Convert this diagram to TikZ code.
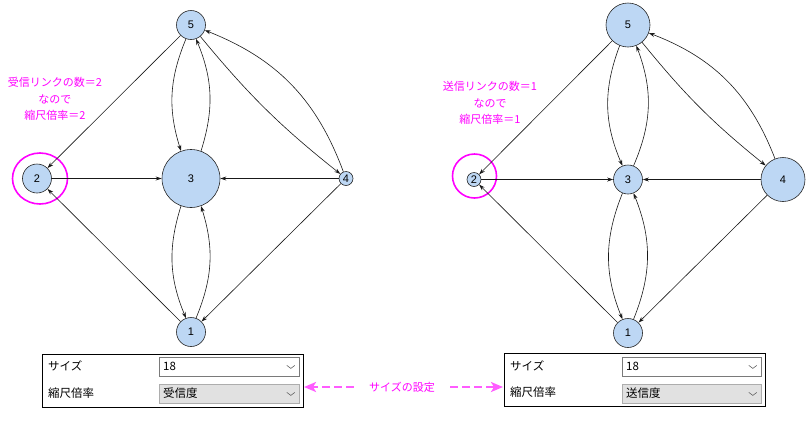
\documentclass[tikz,border=0pt]{standalone}
\usepackage{fontspec}
\setmainfont{Liberation Sans}
\newfontfamily\jp{Noto Sans CJK JP}
\usetikzlibrary{arrows.meta,shapes.geometric}
\definecolor{nodeblue}{HTML}{BDD7F4}
\definecolor{mag}{HTML}{FF00FF}
\definecolor{magarr}{HTML}{FF5CFF}
\definecolor{combofill}{HTML}{E1E1E1}
\definecolor{comboline}{HTML}{ADADAD}
\definecolor{comboline1}{HTML}{7A7A7A}
\tikzset{
  vert/.style={circle, draw=black!85, fill=nodeblue, inner sep=0pt, line width=0.6pt,
    font=\fontsize{11}{11}\selectfont},
  dA/.style={minimum size=14pt},
  dB/.style={minimum size=29pt},
  dC/.style={minimum size=44pt},
  dD/.style={minimum size=58pt},
  edge/.style={-{Stealth[length=6pt,width=4pt,inset=2pt]}, line width=0.6pt, draw=black!90},
  hl/.style={draw=mag, line width=1.6pt, fill=none, inner sep=0pt},
  lab/.style={text=mag, align=center, font=\jp\fontsize{11}{16.5}\selectfont, inner sep=0pt},
  panel/.style={draw=black, line width=0.9pt, fill=white, inner sep=0pt, anchor=north west},
  combowhite/.style={draw=comboline1, fill=white, line width=0.8pt, inner sep=0pt, anchor=north west},
  combogray/.style={draw=comboline, fill=combofill, line width=0.8pt, inner sep=0pt, anchor=north west},
  ptext/.style={anchor=west, inner sep=0pt, font=\jp\fontsize{11.5}{12}\selectfont},
  chev/.style={draw=black!60, line width=0.6pt},
  magarrow/.style={draw=magarr, line width=2.8pt, dash pattern=on 8pt off 4pt,
    -{Stealth[length=12pt,width=10pt,inset=3pt]}},
}
\begin{document}
\begin{tikzpicture}[x=1pt,y=-1pt]
\useasboundingbox (0,0) rectangle (811,424);

% ---------------- left graph ----------------
\node[hl, ellipse, minimum width=55pt, minimum height=51pt] (Lhl) at (40,178.5) {};
\node[vert,dB] (L5) at (191,25) {5};
\node[vert,dB] (L2) at (37,178.5) {2};
\node[vert,dD] (L3) at (191,178.5) {3};
\node[vert,dA] (L4) at (346,178.5) {4};
\node[vert,dB] (L1) at (191,332) {1};

\draw[edge] (L5) -- (L2);
\draw[edge] (L2) -- (L3);
\draw[edge] (L4) -- (L3);
\draw[edge] (L1) -- (L2);
\draw[edge] (L4) -- (L1);
\draw[edge] (L5) to[bend right=20] (L3);
\draw[edge] (L3) to[bend right=20] (L5);
\draw[edge] (L3) to[bend right=20] (L1);
\draw[edge] (L1) to[bend right=20] (L3);
\draw[edge] (L5) to[bend right=6] (L4);
\draw[edge] (L4) to[bend right=24] (L5);

\node[lab] (Llab) at (55,99) {受信リンクの数＝2\\なので\\縮尺倍率＝2};

% ---------------- right graph ----------------
\node[hl, circle, minimum size=44pt] (Rhl) at (474.5,176) {};
\node[vert,dC] (R5) at (628,25) {5};
\node[vert,dA] (R2) at (474,179.5) {2};
\node[vert,dB] (R3) at (628,179.5) {3};
\node[vert,dC] (R4) at (783,179.5) {4};
\node[vert,dB] (R1) at (628,333) {1};

\draw[edge] (R5) -- (R2);
\draw[edge] (R2) -- (R3);
\draw[edge] (R4) -- (R3);
\draw[edge] (R1) -- (R2);
\draw[edge] (R4) -- (R1);
\draw[edge] (R5) to[bend right=22] (R3);
\draw[edge] (R3) to[bend right=22] (R5);
\draw[edge] (R3) to[bend right=22] (R1);
\draw[edge] (R1) to[bend right=22] (R3);
\draw[edge] (R5) to[bend right=6] (R4);
\draw[edge] (R4) to[bend right=24] (R5);

\node[lab] (Rlab) at (490,103) {送信リンクの数＝1\\なので\\縮尺倍率＝1};

% ---------------- left panel ----------------
\node[panel, minimum width=261pt, minimum height=53pt] (LP) at (42,354) {};
\node[ptext] (LPs) at (48,366) {サイズ};
\node[ptext] (LPk) at (48,393) {縮尺倍率};
\node[combowhite, minimum width=140pt, minimum height=19pt] (LC1) at (159,357) {};
\node[combogray, minimum width=140pt, minimum height=19pt] (LC2) at (159,384) {};
\node[ptext] (LC1t) at (163,366.5) {18};
\node[ptext] (LC2t) at (163,393.5) {受信度};
\draw[chev] ([xshift=-13pt,yshift=1.5pt]LC1.east) -- ([xshift=-9pt,yshift=-1.5pt]LC1.east) -- ([xshift=-5pt,yshift=1.5pt]LC1.east);
\draw[chev] ([xshift=-13pt,yshift=1.5pt]LC2.east) -- ([xshift=-9pt,yshift=-1.5pt]LC2.east) -- ([xshift=-5pt,yshift=1.5pt]LC2.east);

% ---------------- right panel ----------------
\node[panel, minimum width=261pt, minimum height=53pt] (RP) at (504,353) {};
\node[ptext] (RPs) at (510,365.5) {サイズ};
\node[ptext] (RPk) at (510,392.5) {縮尺倍率};
\node[combowhite, minimum width=139pt, minimum height=19pt] (RC1) at (622,357) {};
\node[combogray, minimum width=139pt, minimum height=19pt] (RC2) at (622,384) {};
\node[ptext] (RC1t) at (626,366.5) {18};
\node[ptext] (RC2t) at (626,393.5) {送信度};
\draw[chev] ([xshift=-13pt,yshift=1.5pt]RC1.east) -- ([xshift=-9pt,yshift=-1.5pt]RC1.east) -- ([xshift=-5pt,yshift=1.5pt]RC1.east);
\draw[chev] ([xshift=-13pt,yshift=1.5pt]RC2.east) -- ([xshift=-9pt,yshift=-1.5pt]RC2.east) -- ([xshift=-5pt,yshift=1.5pt]RC2.east);

% ---------------- setting label and arrows ----------------
\node[text=mag, inner sep=0pt, font=\jp\fontsize{11}{12}\selectfont] (set) at (402,387) {サイズの設定};
\coordinate (Ltip) at (304,387);
\coordinate (Rtip) at (503,387);
\draw[magarrow] ([xshift=-15pt]set.west) -- (Ltip);
\draw[magarrow] ([xshift=15pt]set.east) -- (Rtip);
\end{tikzpicture}
\end{document}
